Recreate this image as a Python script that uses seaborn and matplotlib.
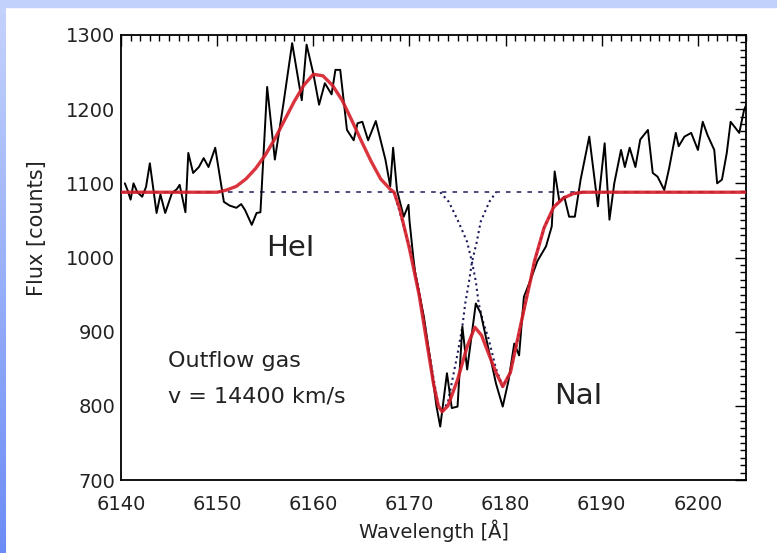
import numpy as np
import pandas as pd
import matplotlib
matplotlib.use("Agg")
import matplotlib.pyplot as plt
from matplotlib.patches import Rectangle
from matplotlib.ticker import MultipleLocator
import seaborn as sns

obs_wl = [6140.4, 6140.7, 6141.0, 6141.3, 6141.7, 6142.2, 6142.6, 6143.0, 6143.7, 6144.1,
          6144.6, 6145.3, 6145.8, 6146.1, 6146.7, 6147.0, 6147.5, 6148.1, 6148.6, 6149.1,
          6149.8, 6150.7, 6151.3, 6152.0, 6152.5, 6152.9, 6153.6, 6154.1, 6154.5, 6155.2,
          6156.0, 6156.9, 6157.8, 6158.8, 6159.3, 6160.0, 6160.6, 6161.2, 6161.9, 6162.3,
          6162.8, 6163.5, 6164.2, 6164.6, 6165.1, 6165.7, 6166.5, 6167.5, 6168.0, 6168.3,
          6168.7, 6169.4, 6169.9, 6170.0, 6170.4, 6170.6, 6171.5, 6172.3, 6172.8, 6173.2,
          6173.9, 6174.4, 6175.0, 6175.5, 6176.0, 6176.9, 6177.4, 6178.4, 6179.0, 6179.7,
          6180.3, 6180.9, 6181.4, 6181.9, 6182.6, 6183.3, 6184.2, 6184.8, 6185.1, 6185.6,
          6186.1, 6186.6, 6187.2, 6187.8, 6188.7, 6189.6, 6190.3, 6190.8, 6191.3, 6192.0,
          6192.4, 6192.9, 6193.5, 6194.0, 6194.8, 6195.3, 6195.8, 6196.5, 6197.0, 6197.7,
          6198.0, 6198.6, 6199.3, 6200.0, 6200.5, 6201.0, 6201.7, 6202.0, 6202.5, 6203.0,
          6203.4, 6204.3, 6204.8, 6205.0]
obs_flux = [1100, 1090, 1078, 1100, 1088, 1082, 1095, 1127, 1060, 1085,
            1060, 1087, 1092, 1098, 1061, 1141, 1114, 1122, 1134, 1122,
            1148, 1075, 1070, 1067, 1072, 1064, 1044, 1060, 1061, 1230,
            1132, 1208, 1289, 1212, 1287, 1248, 1206, 1235, 1220, 1253,
            1253, 1172, 1158, 1181, 1183, 1158, 1184, 1132, 1096, 1148,
            1091, 1055, 1071, 1050, 1000, 979, 920, 850, 800, 772,
            844, 797, 799, 907, 849, 938, 925, 866, 830, 799,
            834, 884, 868, 947, 970, 995, 1015, 1042, 1116, 1075,
            1082, 1055, 1055, 1105, 1163, 1069, 1154, 1051, 1100, 1145,
            1122, 1148, 1122, 1159, 1172, 1114, 1109, 1091, 1120, 1168,
            1150, 1163, 1168, 1145, 1183, 1165, 1145, 1100, 1105, 1141,
            1183, 1168, 1199, 1205]

# total fit (red)
fit_wl = [6140, 6150, 6151, 6152, 6153, 6154, 6155, 6156, 6157, 6158, 6159, 6160, 6161,
          6162, 6163, 6164, 6165, 6166, 6167, 6168, 6168.4, 6169, 6170, 6171, 6172, 6172.5,
          6173, 6173.4, 6174, 6175, 6176, 6176.8, 6177.5, 6178, 6179, 6179.7, 6180.5, 6181,
          6182, 6182.6, 6183, 6184, 6185, 6186, 6187, 6188, 6205]
fit_flux = [1088, 1088, 1091, 1096, 1106, 1120, 1138, 1160, 1185, 1210, 1232, 1247, 1245,
            1232, 1212, 1185, 1157, 1130, 1106, 1092, 1088, 1065, 1012, 950, 870, 830,
            800, 792, 800, 835, 880, 906, 895, 878, 845, 826, 845, 875,
            935, 970, 995, 1040, 1068, 1080, 1086, 1088, 1088]

# the two Na I absorption components (blue dotted)
comp1_wl = [6168.4, 6170, 6171, 6172, 6173, 6173.4, 6174, 6175, 6175.5, 6175.8,
            6176.2, 6176.5, 6177.0, 6177.4, 6178.3, 6179.0]
comp1_flux = [1088, 1015, 955, 875, 800, 792, 805, 870, 907, 938,
              968, 994, 1021, 1048, 1075, 1088]
comp2_wl = [6173.2, 6174.1, 6175.1, 6176.0, 6176.5, 6176.9, 6177.2, 6177.7, 6178.2,
            6179, 6179.7, 6180.5, 6181, 6182, 6183, 6184, 6185, 6186, 6187, 6188]
comp2_flux = [1088, 1075, 1048, 1021, 994, 968, 938, 911, 892,
              850, 826, 845, 875, 935, 995, 1040, 1068, 1080, 1086, 1088]
continuum = 1088

obs = pd.DataFrame({"wl": obs_wl, "flux": obs_flux})
fit = pd.DataFrame({"wl": fit_wl, "flux": fit_flux})
c1 = pd.DataFrame({"wl": comp1_wl, "flux": comp1_flux})
c2 = pd.DataFrame({"wl": comp2_wl, "flux": comp2_flux})

sns.set_style("white")
plt.rcParams['font.family'] = ['DejaVu Sans']

fig = plt.figure(figsize=(7.77, 5.53), dpi=100)
fig.patch.set_facecolor("white")

# slide decoration: blue band on top and gradient strip on the left
fig.patches.append(Rectangle((0, 1 - 7 / 553), 1, 7 / 553, transform=fig.transFigure,
                             color="#c2d0fc", zorder=0))
grad_ax = fig.add_axes([0, 0, 6 / 777, 1 - 7 / 553])
grad = np.linspace(0, 1, 256).reshape(-1, 1)
cmap = matplotlib.colors.LinearSegmentedColormap.from_list("band", ["#c4d2fc", "#6c8cf5"])
grad_ax.imshow(grad, aspect="auto", cmap=cmap)
grad_ax.axis("off")

ax = fig.add_axes([121 / 777, 73 / 553, 625 / 777, 445 / 553])

ax.axhline(continuum, color="#1c1c5a", lw=1.1, dashes=(3, 4), zorder=1)
sns.lineplot(data=c1, x="wl", y="flux", ax=ax, color="#1c1c5a", lw=1.5,
             linestyle=":", estimator=None, zorder=1)
sns.lineplot(data=c2, x="wl", y="flux", ax=ax, color="#1c1c5a", lw=1.5,
             linestyle=":", estimator=None, zorder=1)
sns.lineplot(data=obs, x="wl", y="flux", ax=ax, color="black", lw=1.4,
             estimator=None, zorder=2)
sns.lineplot(data=fit, x="wl", y="flux", ax=ax, color="#d61e2a", lw=2.4,
             estimator=None, zorder=3, alpha=0.9)

ax.set_xlim(6140, 6205)
ax.set_ylim(700, 1300)
ax.xaxis.set_major_locator(MultipleLocator(10))
ax.xaxis.set_minor_locator(MultipleLocator(1))
ax.yaxis.set_major_locator(MultipleLocator(100))
ax.yaxis.set_minor_locator(MultipleLocator(10))
ax.tick_params(which="both", direction="in", top=True, right=True, width=1.0,
               colors="black", labelcolor="#222222")
ax.tick_params(which="major", length=8, labelsize=14)
ax.tick_params(axis="x", which="major", pad=11)
ax.tick_params(axis="y", which="major", pad=4)
ax.tick_params(which="minor", length=4)
for sp in ax.spines.values():
    sp.set_linewidth(1.3)
    sp.set_color("black")

ax.set_xlabel("Wavelength [Å]", fontsize=14, color="#222222", labelpad=4)
ax.set_ylabel("")
fig.text(37 / 777, 1 - 228 / 553, "Flux [counts]", rotation=90, fontsize=15,
         color="#222222", ha="center", va="center")

ax.text(6157.6, 1013, "HeI", fontsize=21, ha="center", va="center", color="#222222")
ax.text(6187.6, 813, "NaI", fontsize=21, ha="center", va="center", color="#222222")
ax.text(6144.9, 860, "Outflow gas", fontsize=16, ha="left", va="center", color="#222222")
ax.text(6144.9, 812, "v = 14400 km/s", fontsize=16, ha="left", va="center", color="#222222")

fig.savefig("out.png", dpi=100)
